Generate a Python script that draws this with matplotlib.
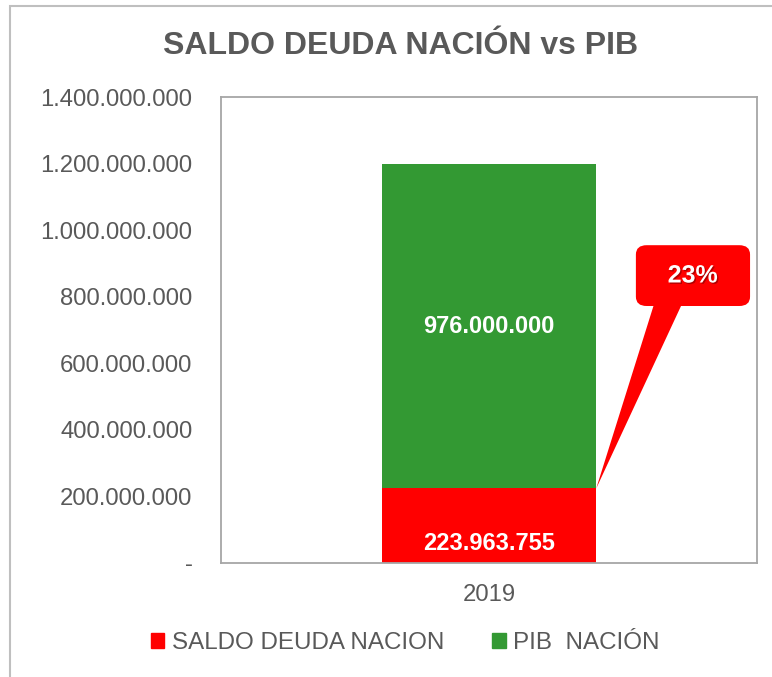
import matplotlib.pyplot as plt
from matplotlib.patches import Patch, Rectangle, FancyBboxPatch, Polygon
import matplotlib.patheffects as pe

plt.rcParams['font.family'] = ['Liberation Sans', 'DejaVu Sans']

years = ['2019']
saldo_deuda = [223963755]
pib = [976000000]
yticks = [0, 200000000, 400000000, 600000000, 800000000, 1000000000, 1200000000, 1400000000]

red = '#FF0000'
green = '#339933'
gray_txt = '#595959'


def fmt(v):
    if v == 0:
        return '-'
    return f'{v:,.0f}'.replace(',', '.')


fig = plt.figure(figsize=(7.72, 6.77), dpi=100)
ax = fig.add_axes([0.2863, 0.1684, 0.6943, 0.6883])

x = range(len(years))
ax.bar(x, saldo_deuda, width=0.4, color=red, label='SALDO DEUDA NACION')
ax.bar(x, pib, width=0.4, bottom=saldo_deuda, color=green, label='PIB  NACIÓN')

ax.set_xlim(-0.5, 0.5)
ax.set_ylim(0, 1400000000)
ax.set_yticks(yticks)
ax.set_yticklabels([fmt(v) for v in yticks])
ax.set_xticks(list(x))
ax.set_xticklabels(years)
ax.tick_params(length=0, labelsize=17.2, colors=gray_txt)
ax.tick_params(axis='y', pad=20.5)
ax.tick_params(axis='x', pad=15)
for s in ax.spines.values():
    s.set_color('#A6A6A6')
    s.set_linewidth(1.3)

for i in x:
    ax.text(i, pib[i] / 2 + saldo_deuda[i], fmt(pib[i]), ha='center', va='center',
            color='white', fontsize=17, fontweight='bold')
    ax.annotate(fmt(saldo_deuda[i]), (i, saldo_deuda[i] / 2), xytext=(0, -13),
                textcoords='offset points', ha='center', va='center',
                color='white', fontsize=17, fontweight='bold')

# callout with the debt / GDP share
pct = saldo_deuda[0] / pib[0] * 100
tip = ax.transAxes.inverted().transform(ax.transData.transform((0.2, saldo_deuda[0])))
box = FancyBboxPatch((0.774, 0.5515), 0.213, 0.1305, boxstyle='round,pad=0,rounding_size=0.02',
                     transform=ax.transAxes, fc=red, ec='none', clip_on=False, zorder=5)
ax.add_patch(box)
tail = Polygon([(0.808, 0.556), (0.86, 0.556), tuple(tip)], closed=True,
               transform=ax.transAxes, fc=red, ec='none', clip_on=False, zorder=5)
ax.add_patch(tail)
ax.text(0.88, 0.617, f'{pct:.0f}%', transform=ax.transAxes, ha='center', va='center',
        color='white', fontsize=18, fontweight='bold', zorder=6,
        path_effects=[pe.withSimplePatchShadow(offset=(1, -1), shadow_rgbFace='#7F0000', alpha=0.6)])

fig.text(0.519, 0.932, 'SALDO DEUDA NACIÓN vs PIB', ha='center', va='center',
         fontsize=23, fontweight='bold', color=gray_txt)

handles = [Patch(color=red), Patch(color=green)]
fig.legend(handles, ['SALDO DEUDA NACION', 'PIB  NACIÓN'], loc='center',
           bbox_to_anchor=(0.525, 0.05), ncol=2, frameon=False, fontsize=17.4,
           handlelength=0.55, handleheight=0.55, handletextpad=0.3, columnspacing=2.0,
           labelcolor=gray_txt)

fig.add_artist(Rectangle((0.013, -0.1), 2, 1.091, transform=fig.transFigure,
                         fill=False, ec='#BFBFBF', lw=1.5))

fig.savefig('out.png', dpi=100)
